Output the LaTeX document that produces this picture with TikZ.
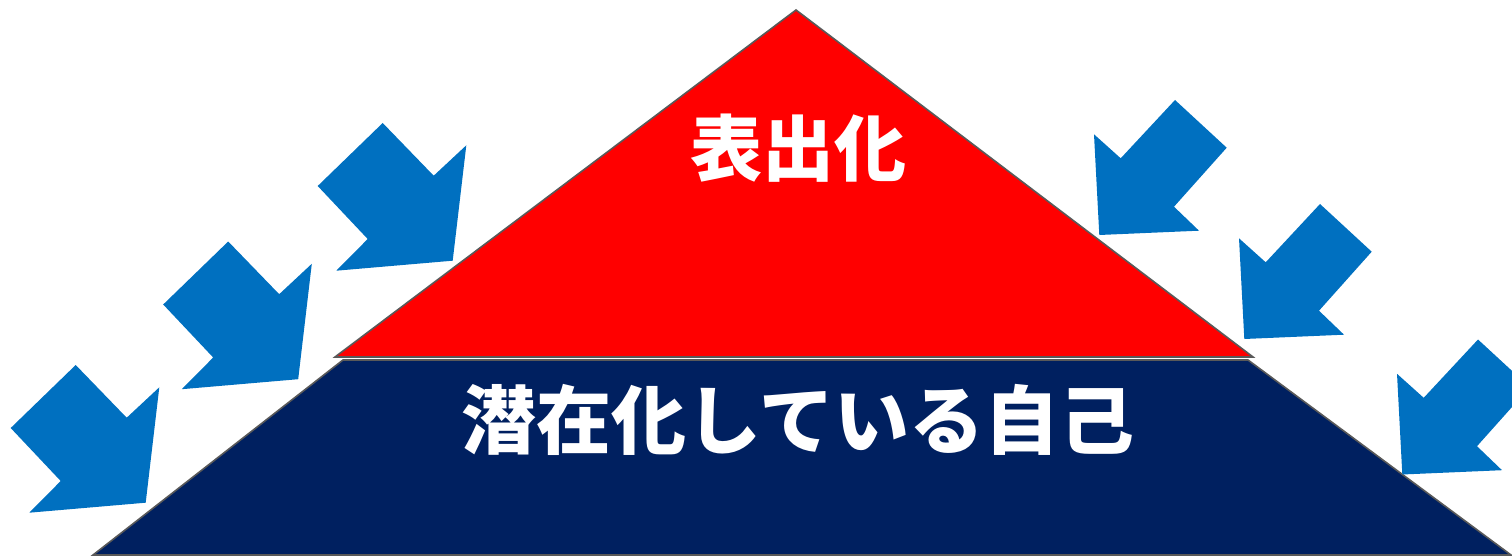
\documentclass[tikz,border=0pt]{standalone}
\usepackage{fontspec}
\newfontfamily\cjk{Noto Sans CJK JP}
\definecolor{arrowblue}{HTML}{0070C0}
\definecolor{topred}{HTML}{FF0000}
\definecolor{basenavy}{HTML}{002060}
\definecolor{edgegray}{HTML}{595959}
\begin{document}
\begin{tikzpicture}[x=1pt,y=-1pt,
  layer/.style={draw=edgegray,line width=1.6pt,line join=miter},
  blockarrow/.style={fill=arrowblue,draw=none},
  label/.style={text=white,font=\cjk\bfseries\fontsize{72}{80}\selectfont,inner sep=0pt}]
\useasboundingbox (0,0) rectangle (1512,556);
% base trapezoid
\filldraw[layer,fill=basenavy] (343,360) -- (1248,360) -- (1511,555) -- (93,555) -- cycle;
% top triangle
\filldraw[layer,fill=topred] (796,10) -- (1253,357) -- (335,357) -- cycle;
% left arrows (pointing down-right)
\foreach \dx/\dy in {0/0, 152.5/-123.5, 307/-242}{
  \fill[blockarrow,shift={(\dx,\dy)}] (75.7,365) -- (126.7,417.7) -- (159.3,387.3) -- (145.7,502.7) -- (29.3,512.7) -- (60.7,481) -- (10.7,428) -- cycle;
}
% right arrows (pointing down-left)
\begin{scope}
\clip (0,0) rectangle (1512,556);
\foreach \dx/\dy in {0/0, 145/104, 303/239.5}{
  \fill[blockarrow,shift={(\dx,\dy)}] (1175,100) -- (1226.7,147.7) -- (1174,206.7) -- (1199,230.7) -- (1099.3,235) -- (1094,134.3) -- (1120.7,158.3) -- cycle;
}
\end{scope}
\node[label] (top) at (798,148) {表出化};
\node[label,font=\cjk\bfseries\fontsize{75}{80}\selectfont] (bottom) at (798,420) {潜在化している自己};
\end{tikzpicture}
\end{document}
